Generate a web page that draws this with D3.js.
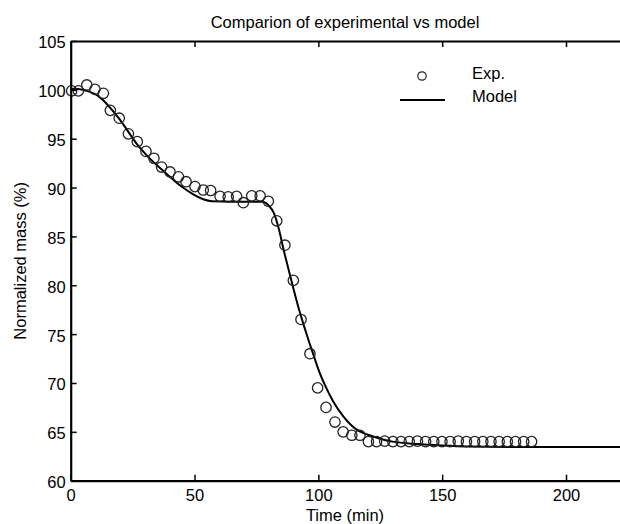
<!DOCTYPE html>
<html>
<head>
<meta charset="utf-8">
<script src="https://cdn.jsdelivr.net/npm/d3@7"></script>
<style>
  html, body { margin: 0; padding: 0; background: #fff; }
  svg { display: block; font-family: "Liberation Sans", Arial, sans-serif; }
</style>
</head>
<body>
<div id="chart"></div>
<script>
// experimental points (time in min, normalized mass in %)
const expTime = [0.4, 3.1, 6.5, 9.8, 13.2, 16.0, 19.6, 23.3, 26.9, 30.4,
  33.6, 36.7, 40.1, 43.5, 46.6, 50.2, 53.5, 56.5, 60.3, 63.6,
  67.0, 69.7, 73.1, 76.5, 79.8, 83.2, 86.5, 89.9, 93.0, 96.6,
  99.7, 103.1, 106.7, 110.0, 113.5, 116.8, 120.2, 123.5, 126.8, 130.1,
  133.4, 136.7, 140.0, 143.3, 146.6, 149.9, 153.2, 156.5, 159.8, 163.1,
  166.4, 169.7, 173.0, 176.3, 179.6, 182.9, 186.1];
const expMass = [99.9, 99.9, 100.5, 100.05, 99.65, 97.9, 97.1, 95.5, 94.7, 93.7,
  93.0, 92.1, 91.6, 91.1, 90.6, 90.1, 89.75, 89.7, 89.1, 89.05,
  89.1, 88.45, 89.15, 89.15, 88.6, 86.6, 84.1, 80.5, 76.5, 73.0,
  69.5, 67.5, 66.0, 65.0, 64.65, 64.65, 64.0, 64.0, 64.05, 64.0,
  64.0, 64.0, 64.05, 64.0, 64.0, 64.0, 64.0, 64.05, 64.0, 64.0,
  64.0, 64.0, 64.0, 64.0, 64.0, 64.0, 64.0];

// model curve
const modelTime = [0, 3, 6.5, 10, 13, 16.5, 20, 23.3, 26.6, 30.7,
  34.7, 38.8, 42.8, 46.2, 49.5, 53.5, 57, 65, 72, 77.4,
  79.8, 82, 84, 86, 88, 90, 92, 94, 96, 98,
  100, 103, 106, 110, 115, 120, 125, 130, 140, 150,
  160, 180, 200, 222];
const modelMass = [100.1, 100.1, 99.9, 99.55, 98.96, 98.0, 96.9, 95.7, 94.5, 93.3,
  92.3, 91.4, 90.5, 89.85, 89.3, 88.8, 88.6, 88.55, 88.55, 88.55,
  88.2, 87.4, 85.8, 83.6, 81.6, 79.6, 77.7, 76.0, 74.4, 72.9,
  71.4, 69.6, 68.1, 66.6, 65.3, 64.7, 64.3, 64.0, 63.75, 63.6,
  63.5, 63.45, 63.45, 63.45];

const xTicks = [0, 50, 100, 150, 200];
const yTicks = [60, 65, 70, 75, 80, 85, 90, 95, 100, 105];

const width = 620, height = 524;
const plot = { left: 70.7, right: 620.5, top: 41, bottom: 480.7 };

const svg = d3.select('#chart').append('svg')
  .attr('width', width)
  .attr('height', height);

const x = d3.scaleLinear().domain([0, 222]).range([plot.left, plot.right]);
const y = d3.scaleLinear().domain([60, 105]).range([plot.bottom, plot.top]);

// model line
const line = d3.line()
  .x(d => x(d[0]))
  .y(d => y(d[1]))
  .curve(d3.curveMonotoneX);

svg.append('path')
  .datum(d3.zip(modelTime, modelMass))
  .attr('d', line)
  .attr('fill', 'none')
  .attr('stroke', '#000')
  .attr('stroke-width', 2);

// experimental circles
svg.append('g')
  .selectAll('circle')
  .data(d3.zip(expTime, expMass))
  .join('circle')
  .attr('cx', d => x(d[0]))
  .attr('cy', d => y(d[1]))
  .attr('r', 5.2)
  .attr('fill', 'none')
  .attr('stroke', '#222')
  .attr('stroke-width', 1.3);

// axes (ticks pointing inward)
const axisStyle = g => {
  g.select('.domain').attr('stroke-width', 2.2);
  g.selectAll('.tick line').attr('stroke-width', 1.5);
  g.selectAll('text').attr('font-size', 16.5).attr('fill', '#000');
};

svg.append('g')
  .attr('transform', `translate(0,${plot.bottom})`)
  .call(d3.axisBottom(x).tickValues(xTicks).tickSizeInner(-6).tickSizeOuter(0).tickPadding(9))
  .call(axisStyle);

svg.append('g')
  .attr('transform', `translate(${plot.left},0)`)
  .call(d3.axisLeft(y).tickValues(yTicks).tickSizeInner(-6).tickSizeOuter(0).tickPadding(5))
  .call(axisStyle)
  .selectAll('text').attr('dy', '0.42em');

svg.append('g')
  .attr('transform', `translate(0,${plot.top})`)
  .call(d3.axisTop(x).tickValues(xTicks).tickSizeInner(-6).tickSizeOuter(0).tickFormat(''))
  .call(axisStyle);

// title and labels
svg.append('text')
  .attr('x', 345)
  .attr('y', 28)
  .attr('text-anchor', 'middle')
  .attr('font-size', 16.5)
  .text('Comparion of experimental vs model');

svg.append('text')
  .attr('x', 345)
  .attr('y', 521)
  .attr('text-anchor', 'middle')
  .attr('font-size', 16.5)
  .text('Time (min)');

svg.append('text')
  .attr('transform', `translate(26,${(plot.top + plot.bottom) / 2}) rotate(-90)`)
  .attr('text-anchor', 'middle')
  .attr('font-size', 16.5)
  .text('Normalized mass (%)');

// legend
const legend = svg.append('g');
legend.append('circle')
  .attr('cx', 422).attr('cy', 76).attr('r', 4.2)
  .attr('fill', 'none').attr('stroke', '#222').attr('stroke-width', 1.2);
legend.append('line')
  .attr('x1', 400).attr('x2', 445).attr('y1', 100).attr('y2', 100)
  .attr('stroke', '#000').attr('stroke-width', 2);
legend.append('text')
  .attr('x', 472).attr('y', 79)
  .attr('font-size', 16.5)
  .text('Exp.');
legend.append('text')
  .attr('x', 472).attr('y', 102)
  .attr('font-size', 16.5)
  .text('Model');
</script>
</body>
</html>
